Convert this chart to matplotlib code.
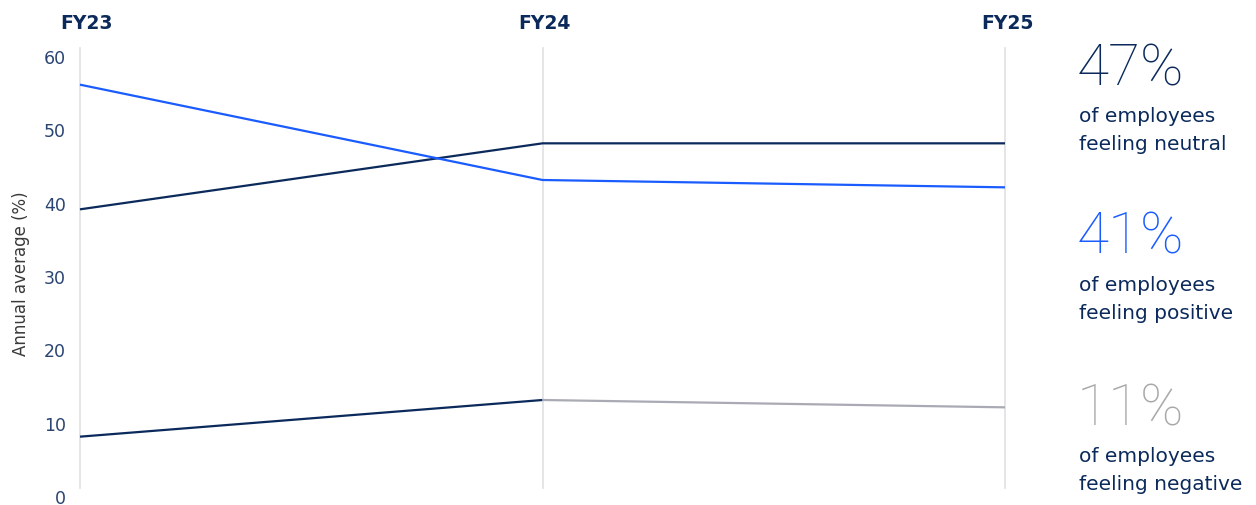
import matplotlib
matplotlib.use("Agg")
import matplotlib.pyplot as plt
from matplotlib.transforms import ScaledTranslation

years = ["FY23", "FY24", "FY25"]
positive = [55, 42, 41]
neutral = [38, 47, 47]
negative = [7, 12, 11]
yticks = [0, 10, 20, 30, 40, 50, 60]
summary_values = ["47%", "41%", "11%"]
summary_labels = ["of employees\nfeeling neutral", "of employees\nfeeling positive", "of employees\nfeeling negative"]

NAVY = "#0b2a5b"
BLUE = "#1a5cff"
GREY = "#a9aab3"
GRID = "#e3e3e6"
TICK = "#2b4472"

W, H = 1256, 506
fig = plt.figure(figsize=(W / 100, H / 100), dpi=100)
ax = fig.add_axes([80 / W, 1 - 489 / H, (1005 - 80) / W, (489 - 49) / H])

x = list(range(len(years)))
for xi in x:
    ax.axvline(xi, color=GRID, lw=1.3, zorder=0, clip_on=False)

ax.plot(x, neutral, color=NAVY, lw=1.6, solid_capstyle="butt", clip_on=False)
ax.plot(x, positive, color=BLUE, lw=1.6, solid_capstyle="butt", clip_on=False)
ax.plot(x[:2], negative[:2], color=NAVY, lw=1.6, solid_capstyle="butt", clip_on=False)
ax.plot(x[1:], negative[1:], color=GREY, lw=1.6, solid_capstyle="butt", clip_on=False)

ax.set_xlim(0, 2)
ax.set_ylim(0, 60)
ax.set_xticks([])
ax.set_yticks(yticks)
ax.set_yticklabels([str(t) for t in yticks])
ax.tick_params(axis="y", length=0, pad=10, labelsize=12.5, labelcolor=TICK)
off = ScaledTranslation(0, -0.08, fig.dpi_scale_trans)
for lab in ax.get_yticklabels():
    lab.set_transform(lab.get_transform() + off)
for s in ax.spines.values():
    s.set_visible(False)

ax.set_ylabel("Annual average (%)", fontsize=12, color="#3a3a3a")
ax.yaxis.set_label_coords(-0.054, 0.49)

# Year headers
fy_x = [87, 544, 1007]
for lbl, px in zip(years, fy_x):
    fig.text(px / W, 1 - 29 / H, lbl, ha="center", va="baseline",
             fontsize=13.5, fontweight="bold", color=NAVY)

# Right-side summary
big_colors = [NAVY, BLUE, "#a8a8a8"]
big_base = [85, 254, 425]
for val, lab, col, by in zip(summary_values, summary_labels, big_colors, big_base):
    fig.text(1077 / W, 1 - by / H, val, ha="left", va="baseline",
             fontsize=42, color=col, family="Roboto", fontweight="light")
    l1, l2 = lab.split("\n")
    fig.text(1079 / W, 1 - (by + 37) / H, l1, ha="left", va="baseline",
             fontsize=14.5, color=NAVY)
    fig.text(1079 / W, 1 - (by + 65) / H, l2, ha="left", va="baseline",
             fontsize=14.5, color=NAVY)

fig.savefig("out.png", dpi=100)
